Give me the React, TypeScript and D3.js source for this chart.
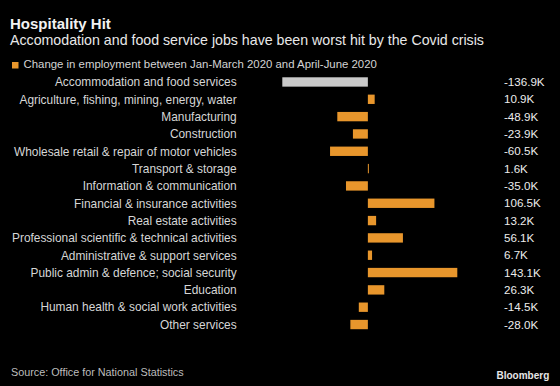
import { scaleBand, scaleLinear } from "d3";

const categories = [
  "Accommodation and food services",
  "Agriculture, fishing, mining, energy, water",
  "Manufacturing",
  "Construction",
  "Wholesale retail & repair of motor vehicles",
  "Transport & storage",
  "Information & communication",
  "Financial & insurance activities",
  "Real estate activities",
  "Professional scientific & technical activities",
  "Administrative & support services",
  "Public admin & defence; social security",
  "Education",
  "Human health & social work activities",
  "Other services",
];

// change in jobs, thousands
const changes = [
  -136.9, 10.9, -48.9, -23.9, -60.5, 1.6, -35.0, 106.5, 13.2, 56.1, 6.7, 143.1,
  26.3, -14.5, -28.0,
];

const highlighted = ["Accommodation and food services"];

const width = 560;
const height = 386;
const font = "'Liberation Sans', Arial, sans-serif";
const orange = "#e8962c";
const grey = "#c9c9c9";

export default function App() {
  const y = scaleBand<string>()
    .domain(categories)
    .range([73.3, 333.2])
    .paddingInner(0.46)
    .paddingOuter(0.23);

  const x = scaleLinear().domain([-136.9, 143.1]).range([282.3, 457.3]);

  return (
    <div style={{ position: "absolute", left: 0, top: 0 }}>
      <svg width={width} height={height} style={{ display: "block", background: "#000" }} fontFamily={font}>
        <rect width={width} height={height} fill="#000" />
        <text x={10} y={28.5} fontSize={15} fontWeight="bold" fill="#f2f2f2">
          Hospitality Hit
        </text>
        <text x={10} y={45} fontSize={14.2} fill="#e8e8e8">
          Accomodation and food service jobs have been worst hit by the Covid crisis
        </text>

        <rect x={12} y={62} width={6.5} height={6.5} fill={orange} />
        <text x={23.5} y={68} fontSize={11.4} fill="#d4d4d4">
          Change in employment between Jan-March 2020 and April-June 2020
        </text>

        {categories.map((c, i) => {
          const v = changes[i];
          const by = y(c) ?? 0;
          const bh = y.bandwidth();
          return (
            <g key={c}>
              <text
                x={236.7}
                y={by + bh / 2}
                dy="0.36em"
                textAnchor="end"
                fontSize={11.9}
                fill="#d6d6d6">
                {c}
              </text>
              <rect
                x={x(Math.min(0, v))}
                y={by}
                width={Math.abs(x(v) - x(0))}
                height={bh}
                fill={highlighted.includes(c) ? grey : orange}
              />
              <text
                x={504}
                y={by + bh / 2}
                dy="0.36em"
                fontSize={11.6}
                fill="#ececec">
                {v.toFixed(1) + "K"}
              </text>
            </g>
          );
        })}

        <text x={11} y={376} fontSize={10.8} fill="#bdbdbd">
          Source: Office for National Statistics
        </text>
        <text x={549.3} y={379} textAnchor="end" fontSize={10} fontWeight="bold" fill="#e6e6e6">
          Bloomberg
        </text>
      </svg>
    </div>
  );
}
